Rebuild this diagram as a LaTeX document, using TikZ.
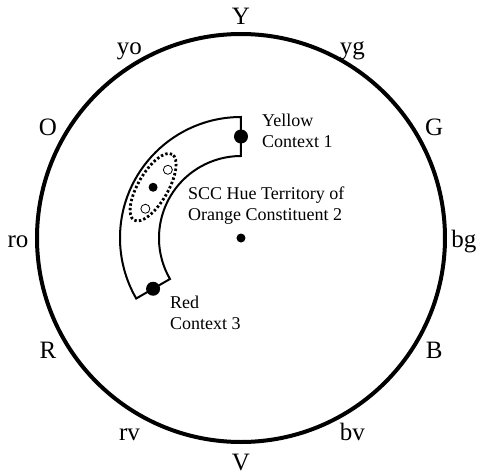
\documentclass[tikz,border=0pt]{standalone}
\usepackage{fontspec}
\setmainfont{Liberation Serif}
\usepackage{tikz}

\begin{document}
\begin{tikzpicture}[x=1pt,y=1pt,
    hue/.style={font=\fontsize{25}{30}\selectfont,inner sep=0pt,text height=0.66em,text depth=0.22em,yshift=-7},
    note/.style={font=\fontsize{18}{20.5}\selectfont,align=left,inner sep=0pt,anchor=north west},
    bigdot/.style={circle,fill=black,inner sep=0pt,minimum size=14},
    smalldot/.style={circle,fill=black,inner sep=0pt,minimum size=9},
    opendot/.style={circle,draw=black,fill=white,line width=0.8,inner sep=0pt,minimum size=9}]
  \useasboundingbox (-241,-237) rectangle (242,238);
  % hue circle
  \draw[line width=4] (0,0) circle[radius=204];
  \foreach \ang/\txt in {90/Y,60/yg,30/G,0/bg,-30/B,-60/bv,-90/V,
                         -120/rv,-150/R,180/ro,150/O,120/yo} {
    \node[hue] (h\txt) at (\ang:223) {\txt};
  }
  % territory band
  \draw[line width=2] (90:121) arc[start angle=90,end angle=210,radius=121]
    -- (210:82) arc[start angle=210,end angle=90,radius=82] -- cycle;
  \draw[line width=2.8,line cap=butt,dash pattern=on 2.4pt off 2.2pt]
    (150:101.5) ellipse[x radius=38,y radius=15,rotate=60];
  \node[opendot] (o1) at (137:100) {};
  \node[opendot] (o2) at (163:100) {};
  \node[smalldot] (orange) at (150:101.5) {};
  \node[smalldot] (centre) at (0,0) {};
  \node[bigdot] (yellow) at (90:101.5) {};
  \node[bigdot] (red) at (210:101.5) {};
  % labels
  \node[note] (tyellow) at (21,124) {Yellow\\Context 1};
  \node[note] (tscc) at (-53,51) {SCC Hue Territory of\\Orange Constituent 2};
  \node[note] (tred) at (-71,-58) {Red\\Context 3};
\end{tikzpicture}
\end{document}
